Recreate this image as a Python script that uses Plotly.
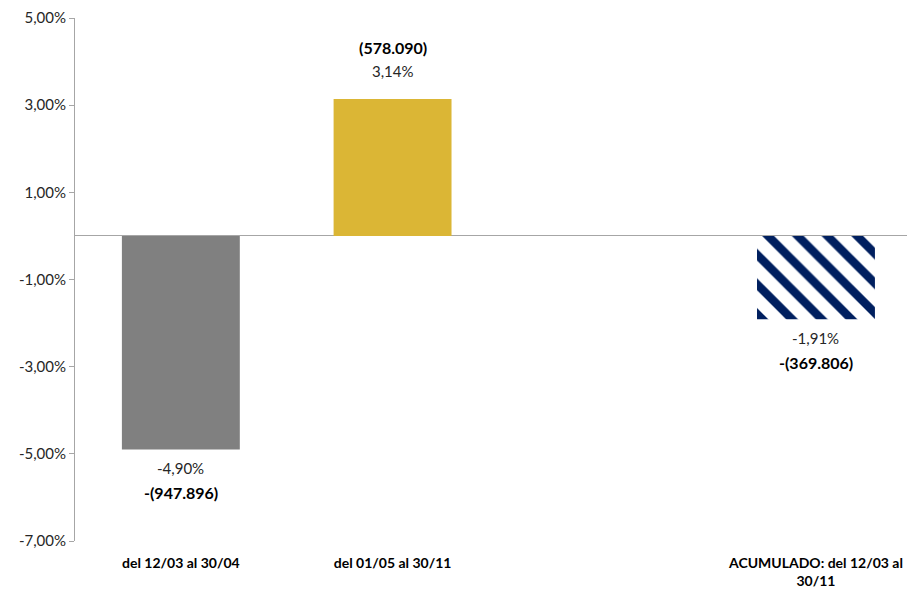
import plotly.graph_objects as go

categories = ["del 12/03 al 30/04", "del 01/05 al 30/11", "ACUMULADO: del 12/03 al<br>30/11"]
axis_order = ["del 12/03 al 30/04", "del 01/05 al 30/11", " ", "ACUMULADO: del 12/03 al<br>30/11"]
values = [-4.90, 3.14, -1.91]
pct_labels = ["-4,90%", "3,14%", "-1,91%"]
amount_labels = ["-(947.896)", "(578.090)", "-(369.806)"]
tick_vals = [5, 3, 1, -1, -3, -5, -7]
tick_text = ["5,00%", "3,00%", "1,00%", "-1,00%", "-3,00%", "-5,00%", "-7,00%"]

colors = ["#808080", "#DBB635", "#001F5F"]
patterns = ["", "", "\\"]
fgcolors = ["#808080", "#DBB635", "#001F5F"]
bgcolors = ["#808080", "#DBB635", "#FFFFFF"]

FONT = "Lato"

fig = go.Figure()
fig.add_trace(go.Bar(
    x=categories, y=values,
    width=0.557,
    marker=dict(color=colors, line=dict(width=0),
                pattern=dict(shape=patterns, fgcolor=fgcolors, bgcolor=bgcolors,
                             size=21, solidity=0.4, fillmode="replace", fgopacity=1)),
    hoverinfo="skip",
))

for cat, v, p, a in zip(categories, values, pct_labels, amount_labels):
    if v >= 0:
        fig.add_annotation(x=cat, y=v, text=p, showarrow=False, yanchor="bottom", yshift=17,
                           font=dict(family=FONT, size=15, color="#262626"))
        fig.add_annotation(x=cat, y=v, text="<b>" + a + "</b>", showarrow=False, yanchor="bottom", yshift=40,
                           font=dict(family=FONT, size=16, color="#000000"))
    else:
        fig.add_annotation(x=cat, y=v, text=p, showarrow=False, yanchor="top", yshift=-8,
                           font=dict(family=FONT, size=15, color="#262626"))
        fig.add_annotation(x=cat, y=v, text="<b>" + a + "</b>", showarrow=False, yanchor="top", yshift=-32,
                           font=dict(family=FONT, size=16, color="#000000"))

fig.update_layout(
    width=899, height=590,
    margin=dict(l=67, r=0, t=8, b=57),
    paper_bgcolor="white", plot_bgcolor="white",
    showlegend=False,
    font=dict(family=FONT, size=14, color="#262626"),
    xaxis=dict(type="category", categoryorder="array", categoryarray=axis_order,
               range=[-0.5, 3.43], showgrid=False, showline=False, zeroline=False,
               ticks="", tickfont=dict(family=FONT, size=14, color="#000000"),
               ticklabelstandoff=12, ticklabeloverflow="allow",
               tickprefix="<b>", ticksuffix="</b>"),
    yaxis=dict(range=[-7, 5], tickvals=tick_vals, ticktext=tick_text,
               showgrid=False, showline=True, linecolor="#A6A6A6", linewidth=1,
               ticks="outside", ticklen=5, tickcolor="#A6A6A6",
               zeroline=True, zerolinecolor="#A6A6A6", zerolinewidth=1,
               ticklabeloverflow="allow",
               tickfont=dict(family=FONT, size=15, color="#262626")),
)

fig.write_html("out.html")
